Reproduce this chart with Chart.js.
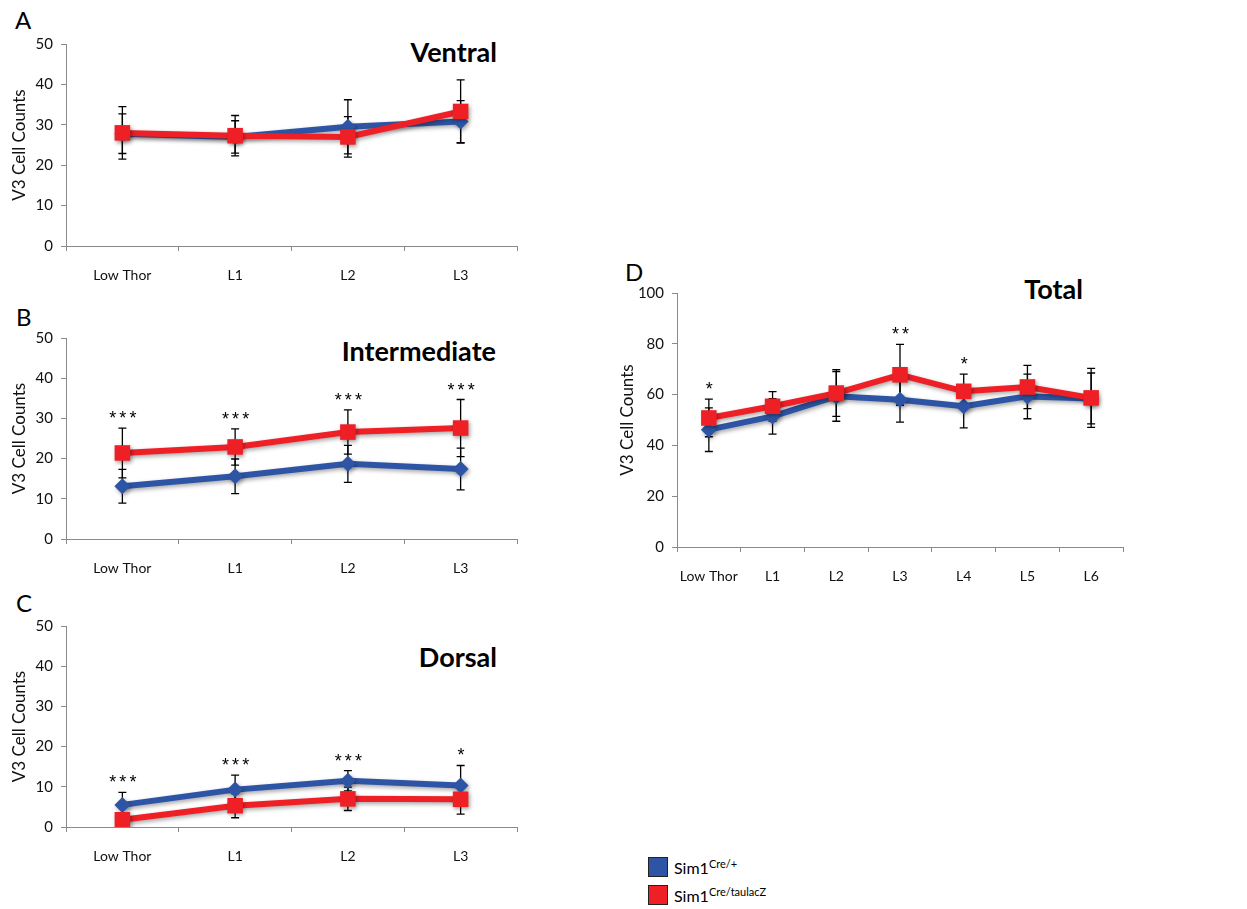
<!DOCTYPE html>
<html>
<head>
<meta charset="utf-8">
<script src="https://cdn.jsdelivr.net/npm/chart.js@4.4.1/dist/chart.umd.min.js"></script>
<style>
  html, body { margin: 0; padding: 0; background: #fff; }
  body { width: 1247px; height: 909px; position: relative; overflow: hidden; font-family: Lato, "Open Sans", sans-serif; color: #000; }
  .cv { position: absolute; }
  .letter { position: absolute; font-size: 24px; line-height: 24px; font-weight: 400; }
  .ptitle { position: absolute; font-size: 27px; line-height: 27px; font-weight: 700; text-align: right; }
  .leg { position: absolute; left: 648px; font-size: 16px; line-height: 22px; white-space: nowrap; }
  .leg .box { display: inline-block; width: 20px; height: 20px; border: 1px solid #222; vertical-align: top; margin-right: 6px; box-sizing: border-box; }
  .leg sup { font-size: 11px; vertical-align: 6px; line-height: 0; }
</style>
</head>
<body>
<div class="letter" style="left:15px;top:8px;">A</div>
<div class="letter" style="left:16px;top:305px;">B</div>
<div class="letter" style="left:16px;top:591px;">C</div>
<div class="letter" style="left:625px;top:260px;">D</div>

<div class="ptitle" style="right:750px;top:38px;">Ventral</div>
<div class="ptitle" style="right:751px;top:337px;">Intermediate</div>
<div class="ptitle" style="right:750px;top:643px;">Dorsal</div>
<div class="ptitle" style="right:164px;top:275px;">Total</div>

<canvas id="cA" class="cv" style="left:0;top:0;" width="530" height="295"></canvas>
<canvas id="cB" class="cv" style="left:0;top:295px;" width="530" height="290"></canvas>
<canvas id="cC" class="cv" style="left:0;top:585px;" width="530" height="295"></canvas>
<canvas id="cD" class="cv" style="left:610px;top:255px;" width="530" height="340"></canvas>

<div class="leg" style="top:857px;"><span class="box" style="background:#2E55A5;"></span>Sim1<sup>Cre/+</sup></div>
<div class="leg" style="top:885px;"><span class="box" style="background:#EE2026;"></span>Sim1<sup>Cre/taulacZ</sup></div>

<script>
// ---------- DATA ----------
const categoriesLumbar = ['Low Thor', 'L1', 'L2', 'L3'];
const categoriesTotal = ['Low Thor', 'L1', 'L2', 'L3', 'L4', 'L5', 'L6'];
const seriesNames = ['Sim1 Cre/+', 'Sim1 Cre/taulacZ'];

const ventralCtrl = [27.8, 27.0, 29.5, 30.8];
const ventralCtrlErr = [4.9, 4.0, 6.7, 5.2];
const ventralMut = [28.0, 27.3, 27.0, 33.3];
const ventralMutErr = [6.5, 5.0, 5.0, 7.8];
const ventralStars = ['', '', '', ''];

const intermCtrl = [13.1, 15.6, 18.7, 17.4];
const intermCtrlErr = [4.2, 4.3, 4.6, 5.2];
const intermMut = [21.4, 22.9, 26.6, 27.6];
const intermMutErr = [6.2, 4.5, 5.5, 7.1];
const intermStars = ['***', '***', '***', '***'];

const dorsalCtrl = [5.5, 9.3, 11.5, 10.3];
const dorsalCtrlErr = [3.1, 3.6, 2.5, 5.0];
const dorsalMut = [1.8, 5.3, 7.0, 6.9];
const dorsalMutErr = [1.5, 3.0, 2.9, 3.7];
const dorsalStars = ['***', '***', '***', '*'];

const totalCtrl = [46.2, 51.4, 59.3, 58.0, 55.4, 59.3, 58.5];
const totalCtrlErr = [8.6, 7.0, 9.8, 8.8, 8.5, 8.8, 10.0];
const totalMut = [50.8, 55.4, 60.6, 67.8, 61.3, 63.0, 58.7];
const totalMutErr = [7.4, 5.8, 9.2, 12.0, 6.8, 8.5, 11.6];
const totalStars = ['*', '', '', '**', '*', '', ''];

const yTicksSmall = [0, 10, 20, 30, 40, 50];
const yTicksTotal = [0, 20, 40, 60, 80, 100];

// ---------- STYLE ----------
const BLUE = '#2E55A5';
const RED = '#EE2026';
const AXIS = '#8a8a8a';
const FONT = 'Lato, "Open Sans", sans-serif';

const errorBarPlugin = {
  id: 'errbars',
  beforeDatasetsDraw(chart, args, opts) {
    const ctx = chart.ctx;
    const ys = chart.scales.y;
    ctx.save();
    ctx.strokeStyle = '#000';
    ctx.lineWidth = 1.3;
    chart.data.datasets.forEach((ds, di) => {
      const meta = chart.getDatasetMeta(di);
      ds.errors.forEach((e, i) => {
        const v = ds.data[i];
        const x = meta.data[i].x;
        const yt = ys.getPixelForValue(v + e);
        const yb = ys.getPixelForValue(Math.max(0, v - e));
        ctx.beginPath();
        ctx.moveTo(x, yt); ctx.lineTo(x, yb);
        ctx.moveTo(x - 4, yt); ctx.lineTo(x + 4, yt);
        ctx.moveTo(x - 4, yb); ctx.lineTo(x + 4, yb);
        ctx.stroke();
      });
    });
    ctx.restore();
  },
  beforeDatasetDraw(chart) {
    const ctx = chart.ctx;
    ctx.save();
    ctx.shadowColor = 'rgba(0,0,0,0.35)';
    ctx.shadowBlur = 4;
    ctx.shadowOffsetX = 1.5;
    ctx.shadowOffsetY = 2;
  },
  afterDatasetDraw(chart) {
    chart.ctx.restore();
  },
  afterDatasetsDraw(chart, args, opts) {
    const ctx = chart.ctx;
    const ys = chart.scales.y;
    const stars = opts.stars || [];
    ctx.save();
    ctx.fillStyle = '#000';
    ctx.font = '18px "Liberation Sans", Arial, sans-serif';
    ctx.textAlign = 'center';
    ctx.textBaseline = 'alphabetic';
    if ('letterSpacing' in ctx) ctx.letterSpacing = '3px';
    const meta0 = chart.getDatasetMeta(0);
    stars.forEach((s, i) => {
      if (!s) return;
      let top = -Infinity;
      chart.data.datasets.forEach(ds => { top = Math.max(top, ds.data[i] + ds.errors[i]); });
      const x = meta0.data[i].x + 2;
      const y = ys.getPixelForValue(top) - 4;
      ctx.fillText(s, x, y);
    });
    ctx.restore();
  }
};

function makeChart(id, cats, ctrl, ctrlErr, mut, mutErr, stars, ticks, geom) {
  const ctx = document.getElementById(id).getContext('2d');
  return new Chart(ctx, {
    type: 'line',
    data: {
      labels: cats,
      datasets: [
        {
          label: seriesNames[1], data: mut, errors: mutErr, order: 0,
          borderColor: RED, backgroundColor: RED, borderWidth: 6,
          pointStyle: 'rect', pointRadius: 11, pointBackgroundColor: RED, pointBorderColor: RED, pointBorderWidth: 0,
          tension: 0
        },
        {
          label: seriesNames[0], data: ctrl, errors: ctrlErr, order: 1,
          borderColor: BLUE, backgroundColor: BLUE, borderWidth: 6,
          pointStyle: 'rectRot', pointRadius: 8, pointBackgroundColor: BLUE, pointBorderColor: BLUE, pointBorderWidth: 0,
          tension: 0
        }
      ]
    },
    options: {
      responsive: false,
      animation: false,
      events: [],
      layout: { padding: { top: geom.top, right: geom.right, bottom: geom.bottom, left: 0 } },
      plugins: {
        legend: { display: false },
        tooltip: { enabled: false },
        errbars: { stars: stars }
      },
      scales: {
        x: {
          type: 'category',
          offset: true,
          grid: { offset: true, drawOnChartArea: false, drawTicks: true, tickLength: 5, color: AXIS },
          border: { color: AXIS, width: 1 },
          ticks: { color: '#111', font: { family: FONT, size: 14 }, padding: 16, maxRotation: 0, autoSkip: false },
          afterFit: s => { s.height = 40; }
        },
        y: {
          min: ticks[0], max: ticks[ticks.length - 1],
          afterBuildTicks: s => { s.ticks = ticks.map(v => ({ value: v })); },
          grid: { drawOnChartArea: false, drawTicks: true, tickLength: 5, color: AXIS },
          border: { color: AXIS, width: 1 },
          ticks: { color: '#111', font: { family: FONT, size: 15 }, padding: 8 },
          title: { display: true, text: 'V3 Cell Counts', color: '#111', font: { family: FONT, size: 17 }, padding: { top: geom.titlePad, bottom: 0 } },
          afterFit: s => { s.width = geom.yw; }
        }
      }
    },
    plugins: [errorBarPlugin]
  });
}

makeChart('cA', categoriesLumbar, ventralCtrl, ventralCtrlErr, ventralMut, ventralMutErr, ventralStars, yTicksSmall,
  { top: 44, right: 13, bottom: 9, yw: 66, titlePad: 9 });
makeChart('cB', categoriesLumbar, intermCtrl, intermCtrlErr, intermMut, intermMutErr, intermStars, yTicksSmall,
  { top: 43, right: 13, bottom: 6, yw: 66, titlePad: 9 });
makeChart('cC', categoriesLumbar, dorsalCtrl, dorsalCtrlErr, dorsalMut, dorsalMutErr, dorsalStars, yTicksSmall,
  { top: 41, right: 13, bottom: 13, yw: 66, titlePad: 9 });
makeChart('cD', categoriesTotal, totalCtrl, totalCtrlErr, totalMut, totalMutErr, totalStars, yTicksTotal,
  { top: 38, right: 17, bottom: 8, yw: 67, titlePad: 7 });
</script>
</body>
</html>
